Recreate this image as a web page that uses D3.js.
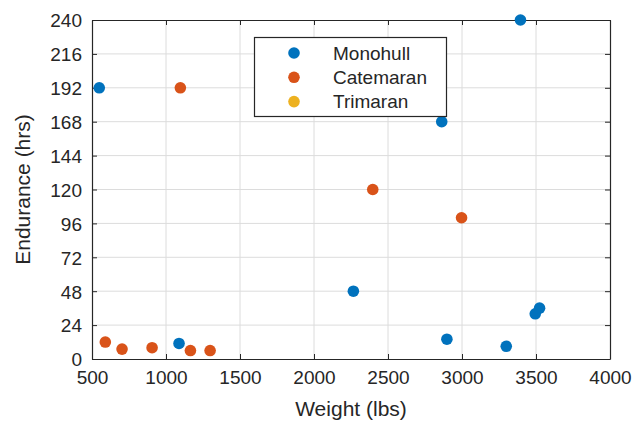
<!DOCTYPE html>
<html><head><meta charset="utf-8">
<script src="https://cdn.jsdelivr.net/npm/d3@7"></script>
<style>body{margin:0;background:#fff;} svg{display:block;font-family:"Liberation Sans",Arial,sans-serif;}</style>
</head><body>
<svg id="c" width="637" height="421"></svg>
<script>
const seriesNames = ["Monohull", "Catemaran", "Trimaran"];
const seriesColors = ["#0072BD", "#D95319", "#EDB120"];
const monohullWeight = [549, 3395, 2863, 1088, 2266, 2898, 3299, 3495, 3524];
const monohullEndurance = [192, 240, 168, 11, 48, 14, 9, 32, 36];
const catemaranWeight = [1097, 2397, 2997, 590, 703, 906, 1165, 1298];
const catemaranEndurance = [192, 120, 100, 12, 7, 8, 6, 6];
const trimaranWeight = [];
const trimaranEndurance = [];
const xTicks = [500, 1000, 1500, 2000, 2500, 3000, 3500, 4000];
const yTicks = [0, 24, 48, 72, 96, 120, 144, 168, 192, 216, 240];

const series = [
  {name: seriesNames[0], color: seriesColors[0], xs: monohullWeight, ys: monohullEndurance},
  {name: seriesNames[1], color: seriesColors[1], xs: catemaranWeight, ys: catemaranEndurance},
  {name: seriesNames[2], color: seriesColors[2], xs: trimaranWeight, ys: trimaranEndurance}
];

const L = 92, R = 610, T = 20, B = 359;
const svg = d3.select("#c");
const x = d3.scaleLinear().domain([500, 4000]).range([L, R]);
const y = d3.scaleLinear().domain([0, 240]).range([B, T]);
const ink = "#262626";
const fmt = d3.format("d");

// grid
const g = svg.append("g");
g.selectAll(".gx").data(xTicks.slice(1, -1)).enter().append("line")
  .attr("x1", d => x(d)).attr("x2", d => x(d)).attr("y1", T).attr("y2", B)
  .attr("stroke", "#dcdcdc").attr("stroke-width", 1);
g.selectAll(".gy").data(yTicks.slice(1, -1)).enter().append("line")
  .attr("y1", d => y(d)).attr("y2", d => y(d)).attr("x1", L).attr("x2", R)
  .attr("stroke", "#dcdcdc").attr("stroke-width", 1);

// axes
const ax = svg.append("g").attr("transform", `translate(0,${B})`)
  .call(d3.axisBottom(x).tickValues(xTicks).tickFormat(fmt).tickSizeInner(-5).tickSizeOuter(0).tickPadding(11));
const axT = svg.append("g").attr("transform", `translate(0,${T})`)
  .call(d3.axisTop(x).tickValues(xTicks).tickSizeInner(-5).tickSizeOuter(0).tickFormat(""));
const ay = svg.append("g").attr("transform", `translate(${L},0)`)
  .call(d3.axisLeft(y).tickValues(yTicks).tickFormat(fmt).tickSizeInner(-5).tickSizeOuter(0).tickPadding(10));
const ayR = svg.append("g").attr("transform", `translate(${R},0)`)
  .call(d3.axisRight(y).tickValues(yTicks).tickSizeInner(-5).tickSizeOuter(0).tickFormat(""));
[ax, axT, ay, ayR].forEach(a => {
  a.select(".domain").attr("stroke", ink).attr("stroke-width", 1.2);
  a.selectAll(".tick line").attr("stroke", ink);
  a.selectAll(".tick text").attr("fill", ink).style("font-size", "19px").style("font-family", "Liberation Sans, Arial, sans-serif");
});
ax.selectAll(".tick text").attr("dy", "0.72em");
ay.selectAll(".tick text").attr("dy", "0.36em");

// points
series.forEach(s => {
  svg.append("g").selectAll("circle").data(s.xs.map((v, i) => [v, s.ys[i]])).enter().append("circle")
    .attr("cx", d => x(d[0])).attr("cy", d => y(d[1])).attr("r", 5.8).attr("fill", s.color);
});

// axis labels
svg.append("text").attr("x", (L + R) / 2).attr("y", 416).attr("text-anchor", "middle")
  .attr("fill", ink).style("font-size", "21px").text("Weight (lbs)");
svg.append("text").attr("transform", `translate(30,${(T + B) / 2}) rotate(-90)`).attr("text-anchor", "middle")
  .attr("fill", ink).style("font-size", "21px").text("Endurance (hrs)");

// legend
const lg = svg.append("g");
lg.append("rect").attr("x", 254.5).attr("y", 37.5).attr("width", 192).attr("height", 79)
  .attr("fill", "#fff").attr("stroke", ink).attr("stroke-width", 1.2);
series.forEach((s, i) => {
  const cy = 53 + i * 24.3;
  lg.append("circle").attr("cx", 294).attr("cy", cy).attr("r", 5.8).attr("fill", s.color);
  lg.append("text").attr("x", 333).attr("y", cy).attr("dy", "0.36em").attr("fill", ink)
    .style("font-size", "19px").text(s.name);
});
</script>
</body></html>
